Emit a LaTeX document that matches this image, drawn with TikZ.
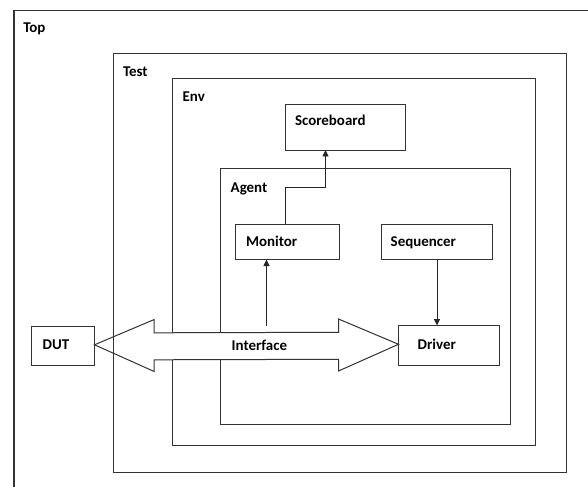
\documentclass[tikz,border=0pt]{standalone}
\usepackage{fontspec}
\setmainfont{Carlito}
\usetikzlibrary{arrows.meta,calc}
\tikzset{
  frame/.style={draw=black!80, line width=1bp, inner sep=0pt, outer sep=0pt, anchor=north west},
  box/.style={frame, fill=white},
  lbl/.style={anchor=base west, inner sep=0pt, outer sep=0pt, font=\fontsize{15}{17}\selectfont\bfseries},
  link/.style={draw=black!85, line width=0.9bp, -{Triangle[length=6.5bp,width=6bp]}},
  iface/.style={draw=black!80, line width=1bp, fill=white, line join=miter}
}
\begin{document}
\begin{tikzpicture}[x=1bp,y=-1bp]
\useasboundingbox (0,0) rectangle (588,487);
\fill[white] (0,0) rectangle (588,487);

% outermost frame, running off the page on the right and bottom
\draw[black!80, line width=1.1bp] (14,487) -- (14,10.5) -- (588,10.5);
\node[lbl] (ltop) at (23.3,33) {Top};

% nested containers
\node[box, minimum width=363bp, minimum height=367bp] (env) at (172.5,78.5) {};
\node[lbl] (lenv) at (182.7,101.7) {Env};
\node[box, minimum width=290bp, minimum height=256bp] (agent) at (220.5,168.5) {};
\node[lbl] (lagent) at (230.7,193) {Agent};

% components
\node[box, minimum width=120bp, minimum height=46bp] (sb) at (285.5,104.5) {};
\node[lbl] (lsb) at (295,126) {Scoreboard};
\node[box, minimum width=104bp, minimum height=35bp] (mon) at (235.5,224.5) {};
\node[lbl] (lmon) at (246,246.7) {Monitor};
\node[box, minimum width=111bp, minimum height=35bp] (seq) at (381.5,224.5) {};
\node[lbl] (lseq) at (390.7,246.7) {Sequencer};
\node[box, minimum width=101bp, minimum height=40bp] (drv) at (398.5,325.5) {};
\node[lbl] (ldrv) at (417.7,349) {Driver};
\node[box, minimum width=63bp, minimum height=39bp] (dut) at (31.5,326.5) {};
\node[lbl] (ldut) at (42.7,349) {DUT};

% connectors
\draw[link] ([xshift=-2bp]mon.north) |- (325.5,187.5) -- (325.5,150);
\coordinate (tap) at (266.5,325.7);
\draw[link] (tap) -- (tap |- mon.south);
\draw[link] (seq.south) -- (seq.south |- drv.north);

% double-headed interface arrow between DUT and Driver
\coordinate (L) at ($(dut.east)+(0,-1.2)$);
\coordinate (R) at ($(drv.west)+(0,-1.2)$);
\draw[iface] (L) -- ++(59.7,-25.3) -- ++(0,13.3)
  -- ($(R)+(-60,-12)$) -- ++(0,-13.3) -- (R) -- ++(-60,26.7) -- ++(0,-11.7)
  -- ($(L)+(59.7,15)$) -- ++(0,11.7) -- cycle;
\node[lbl] (liface) at (231.7,350.7) {Interface};

% test frame drawn last so its edge shows through the arrow head
\node[frame, minimum width=453bp, minimum height=419bp] (test) at (113.5,53.5) {};
\node[lbl] (ltest) at (123,77) {Test};
\end{tikzpicture}
\end{document}
